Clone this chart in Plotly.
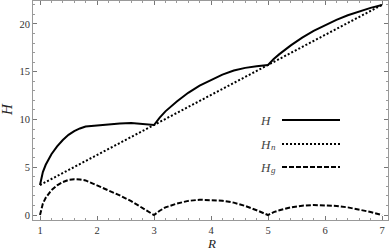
import plotly.graph_objects as go

R = [1.0, 1.05, 1.1, 1.2, 1.3, 1.4, 1.5, 1.6, 1.7, 1.8, 2.0, 2.2, 2.4, 2.6, 2.8, 3.0,
     3.1, 3.2, 3.4, 3.6, 3.8, 4.0, 4.2, 4.4, 4.6, 4.8, 5.0,
     5.1, 5.2, 5.4, 5.6, 5.8, 6.0, 6.2, 6.4, 6.6, 6.8, 7.0]
H = [3.14, 4.50, 5.26, 6.37, 7.18, 7.85, 8.39, 8.78, 9.06, 9.27, 9.38, 9.51, 9.59, 9.62, 9.55, 9.42,
     10.19, 10.85, 11.88, 12.79, 13.54, 14.15, 14.69, 15.12, 15.40, 15.58, 15.71,
     16.32, 16.84, 17.76, 18.57, 19.27, 19.88, 20.43, 20.91, 21.31, 21.68, 21.99]
Hn = [3.14, 3.30, 3.46, 3.77, 4.08, 4.40, 4.71, 5.03, 5.34, 5.65, 6.28, 6.91, 7.54, 8.17, 8.80, 9.42,
      9.74, 10.05, 10.68, 11.31, 11.94, 12.57, 13.19, 13.82, 14.45, 15.08, 15.71,
      16.02, 16.34, 16.96, 17.59, 18.22, 18.85, 19.48, 20.11, 20.73, 21.36, 21.99]
Hg = [0, 1.2, 1.8, 2.6, 3.1, 3.45, 3.68, 3.75, 3.72, 3.62, 3.1, 2.6, 2.05, 1.45, 0.75, 0,
      0.45, 0.8, 1.2, 1.48, 1.6, 1.58, 1.5, 1.3, 0.95, 0.5, 0,
      0.3, 0.5, 0.8, 0.98, 1.05, 1.03, 0.95, 0.8, 0.58, 0.32, 0]

x_ticks = [1, 2, 3, 4, 5, 6, 7]
y_ticks = [0, 5, 10, 15, 20]
legend_main = ["H", "H", "H"]
legend_subs = ["", "n", "g"]
legend_dashes = ["solid", "2px,2px", "5px,2px"]

SERIF = "Liberation Serif, DejaVu Serif, serif"

fig = go.Figure()
fig.add_trace(go.Scatter(x=R, y=H, mode="lines", line=dict(color="black", width=2, dash="solid"), showlegend=False))
fig.add_trace(go.Scatter(x=R, y=Hn, mode="lines", line=dict(color="black", width=2, dash="2px,2px"), showlegend=False))
fig.add_trace(go.Scatter(x=R, y=Hg, mode="lines", line=dict(color="black", width=2, dash="5px,2px"), showlegend=False))

L, Rm, T, B = 33, 2, 1, 30
W, Hh = 390, 250
pw, ph = W - L - Rm, Hh - T - B

def px(xp):
    return (xp - L) / pw

def py(yp):
    return (Hh - B - yp) / ph

axis_common = dict(
    showgrid=False, zeroline=False, showline=True, linecolor="#999999", linewidth=1,
    mirror="allticks", ticks="inside", tickcolor="#777777", ticklen=4, automargin=False,
    tickfont=dict(family=SERIF, size=10.5, color="#333333"),
)

fig.update_xaxes(range=[0.877, 7.105], tickvals=x_ticks,
                 minor=dict(dtick=0.2, ticks="inside", ticklen=2, tickcolor="#999999"),
                 **axis_common)
fig.update_yaxes(range=[-0.52, 22.4], tickvals=y_ticks,
                 minor=dict(dtick=1, ticks="inside", ticklen=2, tickcolor="#999999"),
                 **axis_common)

annotations = [
    dict(text="<i>R</i>", x=px(211), y=py(243), xref="paper", yref="paper", showarrow=False,
         xanchor="center", yanchor="middle",
         font=dict(family=SERIF, size=13, color="#222222")),
    dict(text="<i>H</i>", x=px(7), y=py(110), xref="paper", yref="paper", showarrow=False,
         xanchor="center", yanchor="middle",
         textangle=-90, font=dict(family=SERIF, size=15, color="#222222")),
]
shapes = []
leg_y = [120, 144, 167]
for lab, sub, dsh, yy in zip(legend_main, legend_subs, legend_dashes, leg_y):
    annotations.append(dict(text="<i>" + lab + "</i>", x=px(273), y=py(yy), xref="paper", yref="paper",
                            showarrow=False, xanchor="right", yanchor="middle",
                            font=dict(family=SERIF, size=13, color="#444444")))
    if sub:
        annotations.append(dict(text="<i>" + sub + "</i>", x=px(269), y=py(yy + 3), xref="paper", yref="paper",
                                showarrow=False, xanchor="left", yanchor="middle",
                                font=dict(family=SERIF, size=9, color="#444444")))
    shapes.append(dict(type="line", xref="paper", yref="paper", x0=px(282), x1=px(340),
                       y0=py(yy), y1=py(yy), line=dict(color="black", width=2, dash=dsh)))

fig.update_layout(
    width=W, height=Hh, margin=dict(l=L, r=Rm, t=T, b=B),
    paper_bgcolor="white", plot_bgcolor="white",
    annotations=annotations, shapes=shapes, showlegend=False,
)
fig.write_html("out.html", config={"displayModeBar": False},
               post_script="document.body.style.margin='0px';")
